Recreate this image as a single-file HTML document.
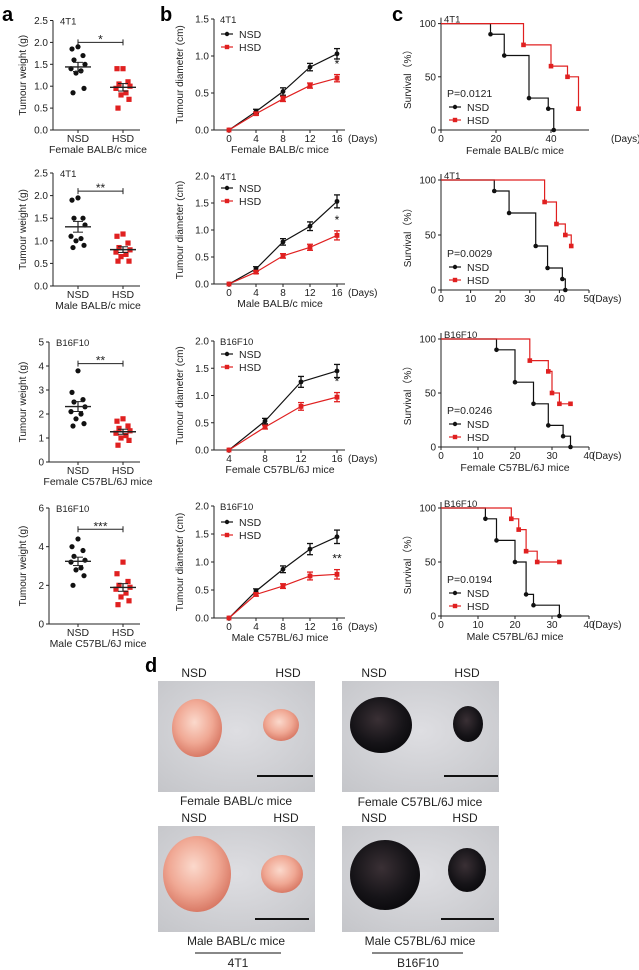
<!DOCTYPE html>
<html><head><meta charset="utf-8"><style>
body{margin:0;background:#fff}
svg{display:block;font-family:"Liberation Sans",Arial,sans-serif}
</style></head><body>
<svg id="s" width="639" height="970" viewBox="0 0 639 970" xmlns="http://www.w3.org/2000/svg">
<defs>
<radialGradient id="bg1" cx="50%" cy="45%" r="75%"><stop offset="0" stop-color="#dedee2"/><stop offset="1" stop-color="#c4c5c9"/></radialGradient>
<radialGradient id="pk" cx="45%" cy="40%" r="60%"><stop offset="0" stop-color="#fbd9cc"/><stop offset="0.6" stop-color="#f0a894"/><stop offset="1" stop-color="#d97a66"/></radialGradient>
<radialGradient id="dk" cx="45%" cy="40%" r="60%"><stop offset="0" stop-color="#3a3035"/><stop offset="0.7" stop-color="#161418"/><stop offset="1" stop-color="#0c0b0e"/></radialGradient>
</defs>
<g id="g"></g>
</svg>
<script>
var out=[];
function T(x,y,t,o){o=o||{};out.push('<text x="'+x+'" y="'+y+'" font-size="'+(o.fs||10)+'" text-anchor="'+(o.a||'start')+'" fill="'+(o.c||'#222')+'"'+(o.rot?' transform="rotate(-90 '+x+' '+y+')"':'')+(o.b?' font-weight="bold"':'')+'>'+t+'</text>');}
function L(x1,y1,x2,y2,c,w){out.push('<line x1="'+x1+'" y1="'+y1+'" x2="'+x2+'" y2="'+y2+'" stroke="'+(c||'#222')+'" stroke-width="'+(w||1)+'"/>');}
function C(x,y,r,c){out.push('<circle cx="'+x+'" cy="'+y+'" r="'+r+'" fill="'+c+'"/>');}
function S(x,y,r,c){out.push('<rect x="'+(x-r)+'" y="'+(y-r)+'" width="'+2*r+'" height="'+2*r+'" fill="'+c+'"/>');}
var RED='#e02020';
T(2,21,'a',{fs:20,b:1,c:'#000'});T(160,21,'b',{fs:20,b:1,c:'#000'});T(392,21,'c',{fs:20,b:1,c:'#000'});T(145,672,'d',{fs:20,b:1,c:'#000'});
var A=[
 {top:20.5,bot:130,max:2.5,ticks:[0,0.5,1,1.5,2,2.5],fmt:1,ax:53,lab:'Female BALB/c mice',cell:'4T1',sig:'*',sv:2.0,
  n:[1.9,1.85,1.7,1.6,1.5,1.4,1.35,1.3,0.95,0.85],h:[1.4,1.4,1.1,1.05,1.0,0.95,0.85,0.8,0.7,0.5]},
 {top:173,bot:286,max:2.5,ticks:[0,0.5,1,1.5,2,2.5],fmt:1,ax:53,lab:'Male BALB/c mice',cell:'4T1',sig:'**',sv:2.1,
  n:[1.95,1.9,1.5,1.5,1.35,1.1,1.05,1.0,0.9,0.85],h:[1.15,1.1,0.95,0.85,0.8,0.75,0.7,0.65,0.55,0.55]},
 {top:342,bot:462,max:5,ticks:[0,1,2,3,4,5],fmt:0,ax:49,lab:'Female C57BL/6J mice',cell:'B16F10',sig:'**',sv:4.1,
  n:[3.8,2.9,2.6,2.5,2.3,2.1,2.0,1.8,1.6,1.5],h:[1.8,1.7,1.5,1.4,1.3,1.2,1.1,1.0,0.9,0.7]},
 {top:508,bot:624,max:6,ticks:[0,2,4,6],fmt:0,ax:49,lab:'Male C57BL/6J mice',cell:'B16F10',sig:'***',sv:4.9,
  n:[4.4,4.0,3.8,3.5,3.3,3.2,2.9,2.8,2.5,2.0],h:[3.2,2.6,2.2,2.0,1.9,1.8,1.6,1.4,1.2,1.0]}];
var off=[0,-6,5,-4,7,-7,3,-2,6,-5];
A.forEach(function(p){
 var Y=function(v){return p.bot-(p.bot-p.top)*v/p.max};
 L(p.ax,p.top,p.ax,p.bot);L(p.ax,p.bot,140,p.bot);
 p.ticks.forEach(function(t){L(p.ax-3,Y(t),p.ax,Y(t));T(p.ax-5,Y(t)+3.5,p.fmt?t.toFixed(1):t,{a:'end'});});
 T(p.ax+7,p.top+4,p.cell,{fs:9.5});
 T(26,(p.top+p.bot)/2,'Tumour weight (g)',{rot:1,a:'middle',fs:10});
 var xn=78,xh=123;
 L(xn,p.bot,xn,p.bot+3);L(xh,p.bot,xh,p.bot+3);
 T(xn,p.bot+12,'NSD',{a:'middle',fs:10.5});T(xh,p.bot+12,'HSD',{a:'middle',fs:10.5});
 T(98,p.bot+23,p.lab,{a:'middle',fs:10.5});
 function grp(v,x,f,c){var m=v.reduce(function(a,b){return a+b})/v.length;var sd=Math.sqrt(v.reduce(function(a,b){return a+(b-m)*(b-m)},0)/v.length)/Math.sqrt(v.length);
  v.forEach(function(d,i){f(x+off[i],Y(d),2.6,c)});
  L(x-13,Y(m),x+13,Y(m),'#222',1.4);L(x,Y(m+sd),x,Y(m-sd),'#222',1.2);L(x-5,Y(m+sd),x+5,Y(m+sd));L(x-5,Y(m-sd),x+5,Y(m-sd));}
 grp(p.n,xn,C,'#111');grp(p.h,xh,S,RED);
 var sy=Y(p.sv);L(xn,sy,xh,sy);L(xn,sy-3,xn,sy+3);L(xh,sy-3,xh,sy+3);T((xn+xh)/2,sy+1,p.sig,{a:'middle',fs:12});
});
var B=[
 {top:19,bot:130,max:1.5,ticks:[0,0.5,1,1.5],xs:[0,4,8,12,16],n:[0,0.25,0.52,0.85,1.03],h:[0,0.22,0.42,0.6,0.7],e:[0,.03,.05,.05,.07],lab:'Female BALB/c mice',cell:'4T1',sig:'*',ly:37},
 {top:176,bot:284,max:2,ticks:[0,0.5,1,1.5,2],xs:[0,4,8,12,16],n:[0,0.28,0.78,1.07,1.53],h:[0,0.22,0.52,0.68,0.9],e:[0,.04,.06,.08,.12],lab:'Male BALB/c mice',cell:'4T1',sig:'*',ly:191},
 {top:341,bot:450,max:2,ticks:[0,0.5,1,1.5,2],xs:[4,8,12,16],n:[0,0.53,1.25,1.45],h:[0,0.42,0.8,0.97],e:[0,.05,.1,.12],lab:'Female C57BL/6J mice',cell:'B16F10',sig:'*',ly:357},
 {top:506,bot:618,max:2,ticks:[0,0.5,1,1.5,2],xs:[0,4,8,12,16],n:[0,0.48,0.87,1.23,1.45],h:[0,0.42,0.57,0.75,0.78],e:[0,.04,.06,.1,.12],lab:'Male C57BL/6J mice',cell:'B16F10',sig:'**',ly:525}];
B.forEach(function(p){
 var ax=214,Y=function(v){return p.bot-(p.bot-p.top)*v/p.max};
 var x0=p.xs[0],X=function(d){return 229+(337-229)*(d-x0)/(16-x0)};
 L(ax,p.top,ax,p.bot);L(ax,p.bot,345,p.bot);
 p.ticks.forEach(function(t){L(ax-3,Y(t),ax,Y(t));T(ax-5,Y(t)+3.5,t.toFixed(1),{a:'end'});});
 p.xs.forEach(function(d){L(X(d),p.bot,X(d),p.bot+3);T(X(d),p.bot+12,d,{a:'middle'});});
 T(348,p.bot+12,'(Days)',{fs:10});
 T(280,p.bot+23,p.lab,{a:'middle',fs:10.5});
 T(183,(p.top+p.bot)/2,'Tumour diameter (cm)',{rot:1,a:'middle',fs:10});
 T(ax+6,p.top+4,p.cell,{fs:9.5});
 [['n','#111',C],['h',RED,S]].forEach(function(s){var v=p[s[0]],pts=v.map(function(d,i){return X(p.xs[i])+','+Y(d)}).join(' ');
  out.push('<polyline points="'+pts+'" fill="none" stroke="'+s[1]+'" stroke-width="1.2"/>');
  v.forEach(function(d,i){var x=X(p.xs[i]),e=p.e[i]*(s[0]=='h'?0.7:1);if(e){L(x,Y(d+e),x,Y(d-e),s[1],1.3);L(x-3,Y(d+e),x+3,Y(d+e),s[1],1.3);L(x-3,Y(d-e),x+3,Y(d-e),s[1],1.3);}s[2](x,Y(d),2.4,s[1]);});});
 var last=p.n.length-1;T(337,Y(p.h[last]+p.e[last])-5,p.sig,{a:'middle',fs:12,c:'#111'});
 L(221,p.ly-3,233,p.ly-3,'#111',1.2);C(227,p.ly-3,2.2,'#111');T(239,p.ly+1,'NSD',{fs:10.5});
 L(221,p.ly+10,233,p.ly+10,RED,1.2);S(227,p.ly+10,2.2,RED);T(239,p.ly+14,'HSD',{fs:10.5});
});
var K=[
 {top:23.6,bot:130,xt:[0,20,40],ext:53.5,n:[[18,90],[23,70],[32,30],[39,20],[41,0]],h:[[30,80],[40,60],[46,50],[50,20]],p:'0.0121',lab:'Female BALB/c mice',cell:'4T1',dx:611},
 {top:180,bot:290,xt:[0,10,20,30,40,50],ext:50,n:[[18,90],[23,70],[32,40],[36,20],[41,10],[42,0]],h:[[35,80],[39,60],[42,50],[44,40]],p:'0.0029',lab:'',cell:'4T1',dx:592},
 {top:339,bot:447,xt:[0,10,20,30,40],ext:40,n:[[15,90],[20,60],[25,40],[29,20],[33,10],[35,0]],h:[[24,80],[29,70],[30,50],[32,40],[35,40]],p:'0.0246',lab:'Female C57BL/6J mice',cell:'B16F10',dx:592},
 {top:508,bot:616,xt:[0,10,20,30,40],ext:40,n:[[12,90],[15,70],[20,50],[23,20],[25,10],[32,0]],h:[[19,90],[21,80],[23,60],[26,50],[32,50]],p:'0.0194',lab:'Male C57BL/6J mice',cell:'B16F10',dx:592}];
K.forEach(function(p){
 var ax=441,X=function(d){return ax+(589-ax)*d/p.ext},Y=function(v){return p.bot-(p.bot-p.top)*v/100};
 if(p.ext==53.5)X=function(d){return ax+2.75*d};
 L(ax,p.top-6,ax,p.bot);L(ax,p.bot,589,p.bot);
 [0,50,100].forEach(function(t){L(ax-3,Y(t),ax,Y(t));T(ax-5,Y(t)+3.5,t,{a:'end'});});
 p.xt.forEach(function(d){L(X(d),p.bot,X(d),p.bot+3);T(X(d),p.bot+12,d,{a:'middle'});});
 T(p.dx,p.bot+12,'(Days)',{fs:10});
 if(p.lab)T(515,p.bot+24,p.lab,{a:'middle',fs:10.5});
 T(411,(p.top+p.bot)/2,'Survival（%）',{rot:1,a:'middle',fs:10});
 T(ax+3,p.top-1,p.cell,{fs:9.5});
 function km(st,c,f){var d='M'+X(0)+','+Y(100);st.forEach(function(s){d+=' H'+X(s[0])+' V'+Y(s[1]);});
  out.push('<path d="'+d+'" fill="none" stroke="'+c+'" stroke-width="1.2"/>');st.forEach(function(s){f(X(s[0]),Y(s[1]),2.3,c)});}
 km(p.n,'#111',C);km(p.h,RED,S);
 T(447,p.bot-33,'P='+p.p,{fs:10.5});
 L(449,p.bot-23,461,p.bot-23,'#111',1.2);C(455,p.bot-23,2.2,'#111');T(467,p.bot-19,'NSD',{fs:10.5});
 L(449,p.bot-10,461,p.bot-10,RED,1.2);S(455,p.bot-10,2.2,RED);T(467,p.bot-6,'HSD',{fs:10.5});
});
function photo(x,y,w,h){out.push('<rect x="'+x+'" y="'+y+'" width="'+w+'" height="'+h+'" fill="url(#bg1)"/>');}
function blob(cx,cy,rx,ry,f){out.push('<ellipse cx="'+cx+'" cy="'+cy+'" rx="'+rx+'" ry="'+ry+'" fill="'+f+'"/>');}
photo(158,681,157,111);photo(342,681,157,111);photo(158,826,157,106);photo(342,826,157,106);
blob(197,728,25,29,'url(#pk)');blob(281,725,18,16,'url(#pk)');
blob(381,725,31,28,'url(#dk)');blob(468,724,15,18,'url(#dk)');
blob(197,874,34,38,'url(#pk)');blob(282,874,21,19,'url(#pk)');
blob(385,875,35,35,'url(#dk)');blob(467,870,19,22,'url(#dk)');
L(257,776,313,776,'#111',2);L(444,776,498,776,'#111',2);L(255,919,309,919,'#111',2);L(441,919,494,919,'#111',2);
T(194,677,'NSD',{a:'middle',fs:12});T(288,677,'HSD',{a:'middle',fs:12});
T(374,677,'NSD',{a:'middle',fs:12});T(467,677,'HSD',{a:'middle',fs:12});
T(194,822,'NSD',{a:'middle',fs:12});T(286,822,'HSD',{a:'middle',fs:12});
T(374,822,'NSD',{a:'middle',fs:12});T(465,822,'HSD',{a:'middle',fs:12});
T(236,805,'Female BABL/c mice',{a:'middle',fs:12});T(420,806,'Female C57BL/6J mice',{a:'middle',fs:12});
T(236,945,'Male BABL/c mice',{a:'middle',fs:12});T(420,945,'Male C57BL/6J mice',{a:'middle',fs:12});
L(195,953,281,953,'#111',1);L(372,953,463,953,'#111',1);
T(238,967,'4T1',{a:'middle',fs:12});T(418,967,'B16F10',{a:'middle',fs:12});
document.getElementById('g').innerHTML=out.join('');
</script>
</body></html>
